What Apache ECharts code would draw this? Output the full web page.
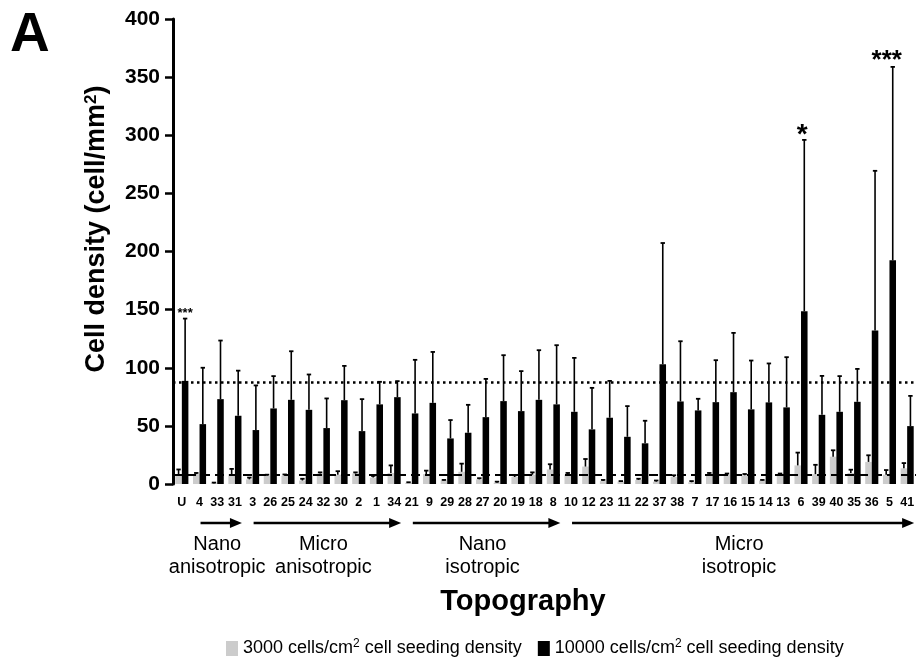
<!DOCTYPE html>
<html>
<head>
<meta charset="utf-8">
<script src="https://cdn.jsdelivr.net/npm/echarts@6/dist/echarts.min.js"></script>
<style>
  html, body { margin: 0; padding: 0; background: #fff; }
  #main { width: 918px; height: 659px; }
</style>
</head>
<body>
<div id="main"></div>
<script>
// topography ids along the x axis
const categories = ['U','4','33','31','3','26','25','24','32','30','2','1','34','21','9','29','28','27','20','19','18','8',
  '10','12','23','11','22','37','38','7','17','16','15','14','13','6','39','40','35','36','5','41']

// 3000 cells/cm2 seeding: mean and top of error bar
const lowMean = [8.6, 8.5, 0.5, 8.6, 4, 7, 7, 3, 9, 8, 9, 5.5, 9.5, 1, 8.5, 3, 10.5, 4, 1, 6, 8, 12.5,
  8, 15, 2.5, 2, 3.5, 2, 6, 1.5, 8, 8, 7.5, 3, 7, 16, 8.5, 23.5, 9.5, 19, 8, 13.5]
const lowErr = [12.5, 9.5, 1.2, 13, 5.5, 8, 8.2, 4.5, 10, 11, 10, 7, 16, 1.5, 11.5, 3.5, 17.5, 5, 2, 7.5, 10, 17,
  9.5, 21.5, 3.5, 2.5, 4.5, 3, 7.5, 2.5, 9.5, 9, 8.6, 3.5, 9, 27, 16.5, 29, 12.3, 24.7, 12, 18]

// 10000 cells/cm2 seeding: mean and top of error bar
const highMean = [88.7, 51.5, 73, 58.7, 46.4, 65, 72.4, 63.8, 48.1, 72.1, 45.5, 68.5, 74.7, 60.7, 69.8, 39.2, 44.1, 57.5, 71.3, 62.7, 72.4, 68.5,
  62.1, 47, 57, 40.6, 35, 103, 71, 63.3, 70.4, 79, 64.2, 70.2, 65.9, 148.6, 59.5, 62.1, 70.7, 132, 192.4, 49.8]
const highErr = [142.3, 100, 123.4, 97.5, 84.8, 92.8, 114.2, 94.2, 73.6, 101.6, 73, 87.9, 88.5, 106.8, 113.6, 55, 68.1, 90.4, 110.8, 97.1, 115.1, 119.4,
  108.5, 82.7, 88.7, 67, 54.4, 207.3, 122.8, 73.3, 106.5, 130, 106.2, 103.7, 109.1, 296, 93, 92.8, 99, 269.4, 358.8, 75.8]

// reference lines
const refDotted = 87.5
const refDashed = 8.3

// significance marks
const starCats = ['U', '6', '5']
const starVals = [142.3, 296, 358.8]
const starTexts = ['***', '*', '***']

// topography groups (first / last category)
const groupNames = ['Nano\nanisotropic', 'Micro\nanisotropic', 'Nano\nisotropic', 'Micro\nisotropic']
const groupFrom = ['4', '3', '21', '10']
const groupTo = ['31', '34', '8', '41']

const yTicks = { min: 0, max: 400, interval: 50 }

const FONT = 'Liberation Sans'
const CAT_GAP = 0.26
// star look: font size, vertical nudge, horizontal nudge
const starStyle = [[13, 1, 0], [28, 9, -2], [26, 7, -6]]

function errorSeries(name, means, errs, side) {
  return {
    name: name + ' err',
    type: 'custom',
    z: 5,
    silent: true,
    encode: { x: 0, y: [1, 2] },
    data: means.map((m, i) => [i, m, errs[i]]),
    renderItem: function (params, api) {
      let idx = api.value(0)
      let base = api.coord([idx, api.value(1)])
      let top = api.coord([idx, api.value(2)])
      let band = api.size([1, 0])[0]
      let barW = band * (1 - CAT_GAP) / 2
      let x = base[0] + side * barW / 2
      return {
        type: 'group',
        children: [
          { type: 'line', shape: { x1: x, y1: base[1], x2: x, y2: top[1] }, style: { stroke: '#000', lineWidth: 1.6 } },
          { type: 'line', shape: { x1: x - 2.2, y1: top[1], x2: x + 2.2, y2: top[1] }, style: { stroke: '#000', lineWidth: 1.8 } }
        ]
      }
    }
  }
}

const LOW_NAME = '3000 cells/cm2 cell seeding density'
const HIGH_NAME = '10000 cells/cm2 cell seeding density'

let chart = echarts.init(document.getElementById('main'))
let option = {
  animation: false,
  backgroundColor: '#fff',
  textStyle: { fontFamily: FONT },
  grid: { left: 173, right: 2, top: 19, bottom: 175 },
  legend: {
    data: [LOW_NAME, HIGH_NAME],
    left: 221,
    top: 633,
    icon: 'rect',
    itemWidth: 12,
    itemHeight: 15,
    itemGap: 16,
    formatter: n => n.replace('cm2', 'cm{sup|2}'),
    textStyle: {
      fontFamily: FONT,
      fontSize: 18,
      color: '#000',
      rich: { sup: { fontFamily: FONT, fontSize: 12, color: '#000', padding: [0, 0, 9, 0] } }
    }
  },
  xAxis: {
    type: 'category',
    data: categories,
    axisLine: { show: false },
    axisTick: { show: false },
    axisLabel: { interval: 0, margin: 12, fontFamily: FONT, fontWeight: 'bold', fontSize: 12.5, color: '#000' }
  },
  yAxis: {
    type: 'value',
    min: yTicks.min,
    max: yTicks.max,
    interval: yTicks.interval,
    splitLine: { show: false },
    axisLine: { show: true, lineStyle: { color: '#000', width: 3 } },
    axisTick: { show: true, length: 8, lineStyle: { color: '#000', width: 2.5 } },
    axisLabel: { margin: 13, fontFamily: FONT, fontWeight: 'bold', fontSize: 21, color: '#000' }
  },
  series: [
    {
      name: LOW_NAME,
      type: 'bar',
      barGap: '0%',
      barCategoryGap: (CAT_GAP * 100) + '%',
      itemStyle: { color: '#cccccc' },
      data: lowMean
    },
    {
      name: HIGH_NAME,
      type: 'bar',
      barGap: '0%',
      barCategoryGap: (CAT_GAP * 100) + '%',
      itemStyle: { color: '#000' },
      data: highMean,
      markLine: {
        silent: true,
        symbol: 'none',
        label: { show: false },
        z: 6,
        data: [
          { yAxis: refDotted, lineStyle: { type: [2.5, 3.5], color: '#000', width: 2.5 } },
          { yAxis: refDashed, lineStyle: { type: [9, 5], color: '#000', width: 2 } }
        ]
      }
    },
    errorSeries('low', lowMean, lowErr, -1),
    errorSeries('high', highMean, highErr, 1),
    {
      name: 'stars',
      type: 'custom',
      z: 7,
      silent: true,
      encode: { x: 0, y: 1 },
      data: starCats.map((c, i) => [categories.indexOf(c), starVals[i], i]),
      renderItem: function (params, api) {
        let k = api.value(2)
        let st = starStyle[k]
        let p = api.coord([api.value(0), api.value(1)])
        let band = api.size([1, 0])[0]
        let x = p[0] + band * (1 - CAT_GAP) / 4 + st[2]
        return {
          type: 'text',
          style: {
            x: x, y: p[1] + st[1],
            text: starTexts[k],
            fontFamily: FONT, fontWeight: 'bold', fontSize: st[0],
            fill: '#000', align: 'center', verticalAlign: 'bottom'
          }
        }
      }
    }
  ]
}
chart.setOption(option)

// labels and arrows under the axis, placed from the category positions
let graphics = [
  {
    type: 'text', left: 10, top: 8,
    style: { text: 'A', fontFamily: FONT, fontWeight: 'bold', fontSize: 55, fill: '#000' }
  },
  {
    type: 'text', x: 97, y: 229, rotation: Math.PI / 2,
    style: {
      text: 'Cell density (cell/mm{sup|2})',
      fontFamily: FONT, fontWeight: 'bold', fontSize: 27, fill: '#000',
      align: 'center', verticalAlign: 'middle',
      rich: { sup: { fontFamily: FONT, fontWeight: 'bold', fontSize: 17, fill: '#000', padding: [0, 0, 12, 0] } }
    }
  },
  {
    type: 'text', x: 523, y: 602,
    style: { text: 'Topography', fontFamily: FONT, fontWeight: 'bold', fontSize: 29, fill: '#000', align: 'center', verticalAlign: 'middle' }
  }
]
let arrowY = 523
groupNames.forEach((g, i) => {
  let x1 = chart.convertToPixel({ xAxisIndex: 0 }, groupFrom[i])
  let x2 = chart.convertToPixel({ xAxisIndex: 0 }, groupTo[i])
  let end = x2 + 7
  graphics.push({
    type: 'line',
    shape: { x1: x1 + 1, y1: arrowY, x2: end - 8, y2: arrowY },
    style: { stroke: '#000', lineWidth: 2.5 }
  })
  graphics.push({
    type: 'polygon',
    shape: { points: [[end, arrowY], [end - 12, arrowY - 5], [end - 12, arrowY + 5]] },
    style: { fill: '#000' }
  })
  graphics.push({
    type: 'text', x: (x1 + x2) / 2, y: 533,
    style: { text: g, fontFamily: FONT, fontSize: 20, lineHeight: 23, fill: '#000', align: 'center', verticalAlign: 'top' }
  })
})
chart.setOption({ graphic: graphics })

window.addEventListener('resize', () => {
  chart.resize()
})
</script>
</body>
</html>
